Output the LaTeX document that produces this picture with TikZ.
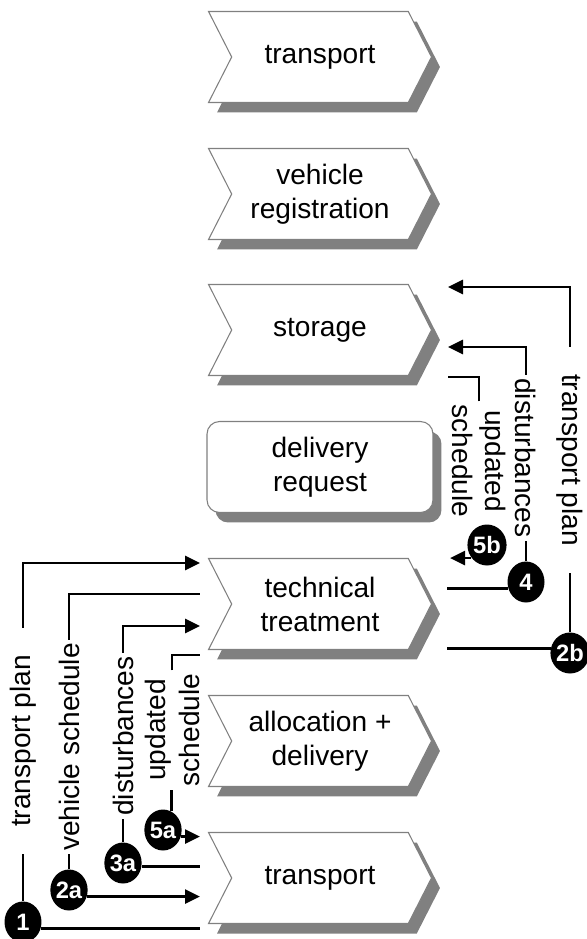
\documentclass[tikz,border=0pt]{standalone}
\usepackage{fontspec}
\setmainfont{Liberation Sans}
\usetikzlibrary{calc}
\usetikzlibrary{shapes.symbols}
\usetikzlibrary{shapes.geometric}
\usetikzlibrary{shadows}
\usetikzlibrary{arrows.meta}
\definecolor{chevgray}{RGB}{128,128,128}
\definecolor{shadegray}{RGB}{128,128,128}

\begin{document}
\begin{tikzpicture}[x=0.02cm, y=-0.02cm,
    chev/.style={signal, signal from=west, signal to=east, signal pointer angle=126,
      draw=chevgray, line width=0.6pt, fill=white, minimum width=4.46cm, minimum height=1.82cm,
      align=center, font=\fontsize{16}{19.3}\selectfont,
      drop shadow={shadow xshift=0.17cm, shadow yshift=-0.2cm, fill=shadegray, opacity=1}},
    roundbox/.style={rectangle, rounded corners=0.25cm, draw=chevgray, line width=0.6pt, fill=white,
      minimum width=4.52cm, minimum height=1.82cm, align=center, font=\fontsize{16}{19.3}\selectfont,
      drop shadow={shadow xshift=0.17cm, shadow yshift=-0.2cm, fill=shadegray, opacity=1}},
    badge/.style={ellipse, fill=black, text=white, minimum width=0.74cm, minimum height=0.82cm,
      inner sep=0pt, font=\fontsize{13.5}{14}\selectfont\bfseries},
    lbl/.style={inner xsep=0.06cm, inner ysep=0pt, align=center, font=\fontsize{16}{19.3}\selectfont},
    flow/.style={line width=1.6pt},
    arr/.style={-{Triangle[length=0.3cm, width=0.28cm]}}]
  \useasboundingbox (0,0) rectangle (586,939);

  % process chain
  \node[chev] (transA) at (320,57) {transport};
  \node[chev] (vehreg) at (320,194) {vehicle\\registration};
  \node[chev] (storage) at (320,330) {storage};
  \node[roundbox] (delreq) at (320,467) {delivery\\request};
  \node[chev] (techtr) at (320,604) {technical\\treatment};
  \node[chev] (alloc) at (320,741) {allocation +\\delivery};
  \node[chev] (transB) at (320,878) {transport};

  % steps
  \node[badge] (b1) at (23,922) {1};
  \node[badge] (b2a) at (69,890) {2a};
  \node[badge] (b3a) at (123,863) {3a};
  \node[badge] (b5a) at (163,830) {5a};
  \node[badge] (b4) at (526,582) {4};
  \node[badge] (b2b) at (570,653) {2b};
  \node[badge] (b5b) at (487,545) {5b};

  % messages
  \node[lbl, rotate=90, inner xsep=0.54cm] (lab1) at (23,741) {transport plan};
  \node[lbl, rotate=90] (lab2a) at (69,747) {vehicle schedule};
  \node[lbl, rotate=90] (lab3a) at (123,736) {disturbances};
  \node[lbl, rotate=90] (lab5a) at (172,730) {updated\\schedule};
  \node[lbl, rotate=-90, inner xsep=0.54cm] (lab2b) at (570,460) {transport plan};
  \node[lbl, rotate=-90] (lab4) at (526,458) {disturbances};
  \node[lbl, rotate=-90] (lab5b) at (479,461) {updated\\schedule};

  \coordinate (xinL) at (200,0);
  \coordinate (xinR) at (447,0);
  \coordinate (ttL1) at (200,563);
  \coordinate (ttL2) at (200,594);
  \coordinate (ttL3) at (200,626);
  \coordinate (ttL4) at (200,655);
  \coordinate (stR1) at (448,287);
  \coordinate (stR2) at (448,347);
  \coordinate (stR3) at (448,377);
  \coordinate (ttR1) at (450,558);

  % transport -> technical treatment
  \draw[flow] (b1.340) -- (b1.340 -| xinL);
  \draw[flow] (b1) -- (lab1);
  \draw[flow, arr] (lab1) |- (ttL1);
  \draw[flow, arr] (b2a.340) -- (b2a.340 -| xinL);
  \draw[flow] (b2a) -- (lab2a);
  \draw[flow] (lab2a) |- (ttL2);
  \draw[flow] (b3a.350) -- (b3a.350 -| xinL);
  \draw[flow] (b3a) -- (lab3a);
  \draw[flow, arr] (lab3a) |- (ttL3);
  \draw[flow, arr] (b5a.340) -- (b5a.340 -| xinL);
  \draw[flow] (b5a.65) -- (b5a.65 |- lab5a.west);
  \draw[flow] (lab5a) |- (ttL4);

  % technical treatment -> storage
  \draw[flow] (b2b.167) -- (b2b.167 -| xinR);
  \draw[flow] (b2b) -- (lab2b);
  \draw[flow, arr] (lab2b) |- (stR1);
  \draw[flow] (b4.200) -- (b4.200 -| xinR);
  \draw[flow] (b4) -- (lab4);
  \draw[flow, arr] (lab4) |- (stR2);
  \draw[flow, arr] (b5b.220) -- (b5b.220 -| ttR1);
  \draw[flow] (lab5b) |- (stR3);
\end{tikzpicture}
\end{document}
